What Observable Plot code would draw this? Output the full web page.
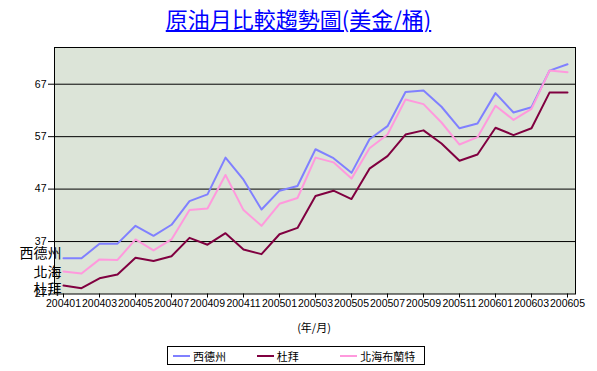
<!DOCTYPE html>
<html><head><meta charset="utf-8">
<script src="https://cdn.jsdelivr.net/npm/d3@7"></script>
<script src="https://cdn.jsdelivr.net/npm/@observablehq/plot@0.6"></script>
<style>
body{margin:0;background:#fff;}
#wrap{position:relative;width:597px;height:371px;overflow:hidden;}
#chart{position:absolute;left:0;top:0;}
#title{position:absolute;left:0;width:597px;top:4px;text-align:center;font-family:"Noto Sans CJK TC";font-size:22px;color:#0000ff;text-decoration:underline;line-height:28px;white-space:nowrap;}
#xlabel{position:absolute;left:264px;width:100px;top:319px;text-align:center;font-family:"Noto Sans CJK TC";font-size:11px;line-height:16px;color:#000;}
#legend{position:absolute;left:167px;top:346px;width:258px;height:19px;border:1px solid #000;display:flex;align-items:center;font-family:"Noto Sans CJK TC";font-size:11px;color:#000;box-sizing:border-box;padding-left:5px;}
.item{display:flex;align-items:center;width:87px;}
.sw{width:17px;height:2px;margin-right:3px;}
</style>
</head><body>
<div id="wrap">
<div id="chart"></div>
<div id="title">原油月比較趨勢圖(美金/桶)</div>
<div id="xlabel">(年/月)</div>
<div id="legend"></div>
</div>
<script>
const months = ["200401","200402","200403","200404","200405","200406","200407","200408","200409","200410","200411","200412",
"200501","200502","200503","200504","200505","200506","200507","200508","200509","200510","200511","200512",
"200601","200602","200603","200604","200605"];
const seriesNames = ["西德州","杜拜","北海布蘭特"];
const sideLabels = ["西德州","杜拜","北海"];
const seriesColors = ["#8080ff","#800040","#ff99dd"];
const wti = [33.8,33.8,36.6,36.6,40.0,38.1,40.2,44.7,46.0,53.0,48.8,43.1,
46.7,47.6,54.6,52.9,50.1,56.5,59.0,65.5,65.8,62.7,58.6,59.5,
65.3,61.6,62.6,69.6,70.8];
const dubai = [28.6,28.1,30.0,30.7,33.9,33.3,34.2,37.7,36.4,38.6,35.5,34.6,
38.4,39.6,45.7,46.7,45.1,50.9,53.3,57.4,58.2,55.7,52.4,53.6,
58.7,57.3,58.6,65.4,65.4];
const brent = [31.3,30.9,33.6,33.5,37.4,35.3,37.4,43.0,43.3,49.7,43.0,40.0,
44.2,45.3,53.0,52.1,49.0,54.8,57.4,64.1,63.2,59.7,55.5,56.9,
62.9,60.2,62.3,69.6,69.3];
const yTicks = [27,37,47,57,67];
const xTicks = ["200401","200403","200405","200407","200409","200411","200501","200503","200505","200507","200509","200511","200601","200603","200605"];

const seriesValues = [wti, dubai, brent];
const data = [];
seriesValues.forEach((vals, s) => vals.forEach((v, i) => data.push({month: months[i], value: v, name: seriesNames[s]})));
const firsts = seriesValues.map((vals, s) => ({month: months[0], value: vals[0], label: sideLabels[s]}));

const cjk = "Noto Sans CJK TC";
const chart = Plot.plot({
  width: 597, height: 371,
  marginTop: 47, marginBottom: 77.5, marginLeft: 54, marginRight: 22,
  style: {fontFamily: "Liberation Sans", fontSize: "10.5px", background: "transparent", color: "#000"},
  x: {type: "point", domain: months, padding: 0, axis: null},
  y: {domain: [27, 74], axis: null},
  color: {domain: seriesNames, range: seriesColors},
  marks: [
    Plot.frame({fill: "#dce4d8", stroke: null}),
    Plot.ruleY(yTicks.slice(1), {stroke: "#000", strokeWidth: 1}),
    Plot.frame({stroke: "#000", strokeWidth: 1}),
    Plot.axisY(yTicks, {tickSize: 6, tickPadding: 2, label: null, stroke: "#000"}),
    Plot.axisX(xTicks, {tickSize: 4, tickPadding: 2, label: null, stroke: "#000"}),
    Plot.line(data, {x: "month", y: "value", z: "name", stroke: "name", strokeWidth: 2}),
    Plot.text([firsts[0]], {x: "month", y: "value", text: "label", textAnchor: "end", dx: -2, dy: -5, fontFamily: cjk, fontSize: 14, fill: "#000"}),
    Plot.text([firsts[2]], {x: "month", y: "value", text: "label", textAnchor: "end", dx: -2, dy: 1, fontFamily: cjk, fontSize: 14, fill: "#000"}),
    Plot.text([firsts[1]], {x: "month", y: "value", text: "label", textAnchor: "end", dx: -2, dy: 4, fontFamily: cjk, fontSize: 14, fill: "#000"})
  ]
});
document.getElementById("chart").appendChild(chart);

const legend = document.getElementById("legend");
seriesNames.forEach((n, i) => {
  const it = document.createElement("div"); it.className = "item";
  const sw = document.createElement("div"); sw.className = "sw"; sw.style.background = seriesColors[i];
  const tx = document.createElement("span"); tx.textContent = n;
  it.appendChild(sw); it.appendChild(tx); legend.appendChild(it);
});
</script>
</body></html>
